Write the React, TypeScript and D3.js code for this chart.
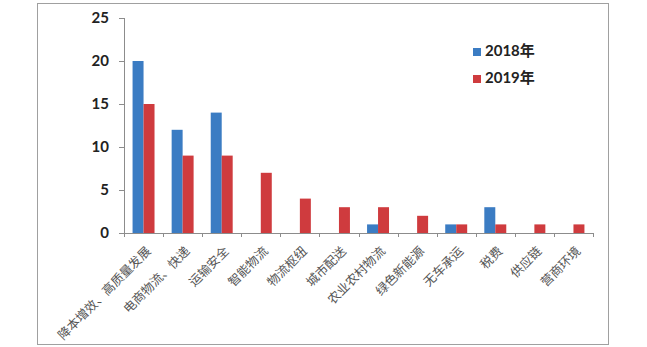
import React from "react";
import * as d3 from "d3";

const categories = [
  "降本增效、高质量发展",
  "电商物流、快递",
  "运输安全",
  "智能物流",
  "物流枢纽",
  "城市配送",
  "农业农村物流",
  "绿色新能源",
  "无车承运",
  "税费",
  "供应链",
  "营商环境",
];
const series2018 = [20, 12, 14, 0, 0, 0, 1, 0, 1, 3, 0, 0];
const series2019 = [15, 9, 9, 7, 4, 3, 3, 2, 1, 1, 1, 1];
const seriesNames = ["2018年", "2019年"];
const yTicks = [0, 5, 10, 15, 20, 25];

const colors = ["#3b7cc3", "#cf3b3e"];

export default function App() {
  const W = 647;
  const H = 347;
  const left = 124;
  const right = 593;
  const top = 18;
  const bottom = 233;

  const x0 = d3.scaleBand<string>().domain(categories).range([left, right]).paddingInner(0).paddingOuter(0);
  const x1 = d3.scaleBand<string>().domain(seriesNames).range([0, x0.bandwidth()]).paddingInner(0).paddingOuter(0.78);
  const y = d3.scaleLinear().domain([0, 25]).range([bottom, top]);
  const data = [series2018, series2019];

  return (
    <svg width={W} height={H} style={{ position: "absolute", left: 0, top: 0, background: "#fff" }}>
      <rect x={37.5} y={3.5} width={571} height={341} fill="#fff" stroke="#a0a0a0" strokeWidth={1} />
      {/* bars */}
      {categories.map((c, i) => (
        <g key={c}>
          {data.map((s, j) =>
            s[i] > 0 ? (
              <rect
                key={j}
                x={(x0(c) as number) + (x1(seriesNames[j]) as number)}
                y={y(s[i])}
                width={x1.bandwidth()}
                height={y(0) - y(s[i])}
                fill={colors[j]}
              />
            ) : null
          )}
        </g>
      ))}
      {/* y axis */}
      <line x1={left + 0.5} x2={left + 0.5} y1={top} y2={bottom} stroke="#8c8c8c" />
      {yTicks.map((t) => (
        <g key={t}>
          <line x1={left - 5} x2={left} y1={Math.round(y(t)) + 0.5} y2={Math.round(y(t)) + 0.5} stroke="#8c8c8c" />
          <text
            x={left - 15}
            y={y(t)}
            dy="0.36em"
            textAnchor="end"
            fontFamily="Lato, 'Open Sans', sans-serif"
            fontWeight={700}
            fontSize={15}
            fill="#222"
          >
            {t}
          </text>
        </g>
      ))}
      {/* x axis */}
      <line x1={left} x2={right} y1={bottom + 0.5} y2={bottom + 0.5} stroke="#8c8c8c" />
      {categories.map((c, i) => (
        <line
          key={"t" + i}
          x1={Math.round(x0(c) as number) + 0.5}
          x2={Math.round(x0(c) as number) + 0.5}
          y1={bottom}
          y2={bottom + 4}
          stroke="#8c8c8c"
        />
      ))}
      <line x1={right + 0.5} x2={right + 0.5} y1={bottom} y2={bottom + 4} stroke="#8c8c8c" />
      {categories.map((c) => {
        const cx = (x0(c) as number) + x0.bandwidth() / 2;
        return (
          <text
            key={"l" + c}
            transform={`translate(${cx + 8},${bottom + 19}) rotate(-45)`}
            textAnchor="end"
            fontFamily="'Noto Sans CJK SC', sans-serif"
            fontSize={12.5}
            fill="#555"
          >
            {c}
          </text>
        );
      })}
      {/* legend */}
      {seriesNames.map((n, j) => (
        <g key={n} transform={`translate(473,${48 + j * 27})`}>
          <rect x={0} y={0} width={8} height={8} fill={colors[j]} />
          <text
            x={12}
            y={8}
            fontFamily="Lato, 'Noto Sans CJK SC', sans-serif"
            fontWeight={700}
            fontSize={15}
            fill="#222"
          >
            {n}
          </text>
        </g>
      ))}
    </svg>
  );
}
